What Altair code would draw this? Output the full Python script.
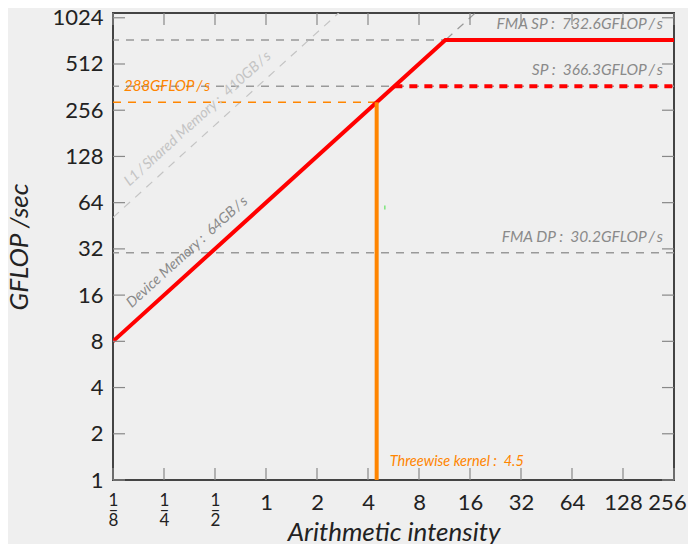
import altair as alt
import pandas as pd

# ---------------- data ----------------
x_ticks = [0.125, 0.25, 0.5, 1, 2, 4, 8, 16, 32, 64, 128, 256]
x_fraction_denoms = {0.125: "8", 0.25: "4", 0.5: "2"}
y_ticks = [1, 2, 4, 8, 16, 32, 64, 128, 256, 512, 1024]

peak_names = ["FMA SP", "SP", "FMA DP"]
peak_values = [732.6, 366.3, 30.2]

bw_names = ["Device Memory", "L1\u2009/\u2009Shared Memory"]
bw_values = [64, 410]

kernel_name = "Threewise kernel"
kernel_ai = 4.5
kernel_perf = 288

marker_x = [5.03]
marker_y = [59.6]

# ---------------- layout / style ----------------
X_MIN, X_MAX = 0.125, 256
Y_MIN, Y_MAX = 1, 1100
W, H = 561, 467
FONT = "Lato"
BG = "#efefef"
ORANGE = "#ff8500"
RED = "#ff0000"
GRAY = "#999999"
LIGHT = "#c4c4c4"
TXT_GRAY = "#8a8a8a"
TICK_LEN = 12
SEP = "\u00a0:\u00a0\u00a0"

xs = alt.Scale(type="log", base=2, domain=[X_MIN, X_MAX], nice=False)
ys = alt.Scale(type="log", base=2, domain=[Y_MIN, Y_MAX], nice=False)

expr = "format(datum.value, 'd')"
for v, d in sorted(x_fraction_denoms.items(), reverse=True):
    expr = f"abs(datum.value - {v}) < 1e-6 ? ['1', '\u2013', '{d}'] : " + expr

xaxis = alt.Axis(
    values=x_ticks, labelExpr=expr,
    labelFontSize={"condition": {"test": "datum.value < 1", "value": 17}, "value": 22},
    labelOffset={"condition": {"test": "datum.value > 200", "value": -7}, "value": 0},
    labelLineHeight=10, labelBaseline="top", labelPadding=12,
    labelFlush=False, labelOverlap=False, labelFont=FONT, labelColor="#222",
    ticks=False, domain=False, grid=False,
    title="Arithmetic intensity", titleFont=FONT, titleFontSize=26,
    titleFontStyle="italic", titleFontWeight="normal", titleColor="#222",
    titleBaseline="alphabetic", titleY=60,
)
yaxis = alt.Axis(
    values=y_ticks, format="d", labelFontSize=22, labelPadding=10,
    labelFont=FONT, labelColor="#222", labelOverlap=False, labelFlush=False,
    ticks=False, domain=False, grid=False,
    title="GFLOP /sec", titleFont=FONT, titleFontSize=26,
    titleFontStyle="italic", titleFontWeight="normal", titleColor="#222",
    titleBaseline="alphabetic", titleX=-86,
)


def X(f):
    return alt.X(f, type="quantitative", scale=xs, axis=xaxis)


def Y(f):
    return alt.Y(f, type="quantitative", scale=ys, axis=yaxis)


layers = []

# horizontal peak lines (gray dashed)
peaks = pd.DataFrame({"name": peak_names, "v": peak_values})
layers.append(alt.Chart(peaks).mark_rule(color=GRAY, strokeWidth=1.5, strokeDash=[8, 7]).encode(y=Y("v")))

# bandwidth diagonals
bw_lines = pd.DataFrame({
    "name": [n for n in bw_names for _ in (0, 1)],
    "x": [X_MIN, X_MAX] * len(bw_names),
    "y": [b * xx for b in bw_values for xx in (X_MIN, X_MAX)],
})
layers.append(alt.Chart(bw_lines[bw_lines.name == bw_names[0]]).mark_line(
    clip=True, color=GRAY, strokeWidth=1.2, strokeDash=[8, 7]).encode(x=X("x"), y=Y("y")))
layers.append(alt.Chart(bw_lines[bw_lines.name == bw_names[1]]).mark_line(
    clip=True, color=LIGHT, strokeWidth=1.2, strokeDash=[8, 7]).encode(x=X("x"), y=Y("y")))

# kernel orange guide
kern = pd.DataFrame({"x0": [X_MIN], "x": [kernel_ai], "y0": [Y_MIN], "y": [kernel_perf]})
layers.append(alt.Chart(kern).mark_rule(color=ORANGE, strokeWidth=1.5, strokeDash=[8, 7]).encode(
    x=X("x0"), x2="x", y=Y("y")))

# roofline (red)
knee = peak_values[0] / bw_values[0]
roof = pd.DataFrame({"x": [X_MIN, knee, X_MAX],
                     "y": [bw_values[0] * X_MIN, peak_values[0], peak_values[0]]})
layers.append(alt.Chart(roof).mark_line(color=RED, strokeWidth=4, clip=True).encode(x=X("x"), y=Y("y")))

sp = pd.DataFrame({"x": [peak_values[1] / bw_values[0], X_MAX], "y": [peak_values[1]] * 2})
layers.append(alt.Chart(sp).mark_line(color=RED, strokeWidth=4, strokeDash=[8, 7], clip=True).encode(
    x=X("x"), y=Y("y")))

# orange vertical kernel line
layers.append(alt.Chart(kern).mark_rule(color=ORANGE, strokeWidth=4).encode(x=X("x"), y=Y("y0"), y2="y"))

# small green marker
mk = pd.DataFrame({"x": marker_x, "y": marker_y})
layers.append(alt.Chart(mk).mark_tick(color="#22dd22", orient="vertical", size=4, thickness=1.2).encode(
    x=X("x"), y=Y("y")))

# peak labels
peaks["label"] = [f"{n}{SEP}{v}GFLOP\u2009/\u2009s" for n, v in zip(peak_names, peak_values)]
peaks["xr"] = X_MAX
layers.append(alt.Chart(peaks).mark_text(
    align="right", baseline="middle", dx=-11, dy=-16, font=FONT, fontSize=15.5,
    fontStyle="italic", color=TXT_GRAY).encode(x=X("xr"), y=Y("v"), text="label"))

# bandwidth labels along diagonals
bw_label_x = [0.398, 0.459]
bwl = pd.DataFrame({
    "x": bw_label_x,
    "y": [b * xx for b, xx in zip(bw_values, bw_label_x)],
    "label": [f"{n}{SEP}{b}GB\u2009/\u2009s" for n, b in zip(bw_names, bw_values)],
    "c": [TXT_GRAY, LIGHT],
})
layers.append(alt.Chart(bwl).mark_text(
    align="center", baseline="middle", angle=317.8, dy=-16, font=FONT, fontSize=14.5,
    fontStyle="italic").encode(x=X("x"), y=Y("y"), text="label", color=alt.Color("c:N", scale=None)))

# kernel labels
kl = pd.DataFrame({"x0": [X_MIN], "y": [kernel_perf], "xk": [kernel_ai], "y0": [Y_MIN],
                   "l1": [f"{kernel_perf}GFLOP\u2009/\u2009s"],
                   "l2": [f"{kernel_name}{SEP}{kernel_ai}"]})
layers.append(alt.Chart(kl).mark_text(
    align="left", baseline="middle", dx=11, dy=-16, font=FONT, fontSize=15,
    fontStyle="italic", color=ORANGE).encode(x=X("x0"), y=Y("y"), text="l1"))
layers.append(alt.Chart(kl).mark_text(
    align="left", baseline="middle", dx=13, dy=-18, font=FONT, fontSize=14.5,
    fontStyle="italic", color=ORANGE).encode(x=X("xk"), y=Y("y0"), text="l2"))

# inward ticks on all four sides
yt = pd.DataFrame({"v": y_ticks})
xt = pd.DataFrame({"v": x_ticks})
tick_style = dict(color="#888888", strokeWidth=1.2)
layers.append(alt.Chart(yt).mark_rule(**tick_style).encode(
    y=Y("v"), x=alt.value(0), x2=alt.value(TICK_LEN)))
layers.append(alt.Chart(yt).mark_rule(**tick_style).encode(
    y=Y("v"), x=alt.value(W - TICK_LEN), x2=alt.value(W)))
layers.append(alt.Chart(xt).mark_rule(**tick_style).encode(
    x=X("v"), y=alt.value(H - TICK_LEN), y2=alt.value(H)))
layers.append(alt.Chart(xt).mark_rule(**tick_style).encode(
    x=X("v"), y=alt.value(0), y2=alt.value(TICK_LEN)))

chart = alt.layer(*layers).properties(
    width=W, height=H,
    autosize=alt.AutoSizeParams(type="none"),
    padding={"left": 105, "top": 5, "right": 14, "bottom": 64},
    background=BG,
).configure_view(stroke="#444444", strokeWidth=2)

chart.save("out.html", embed_options={"renderer": "svg", "actions": False})
